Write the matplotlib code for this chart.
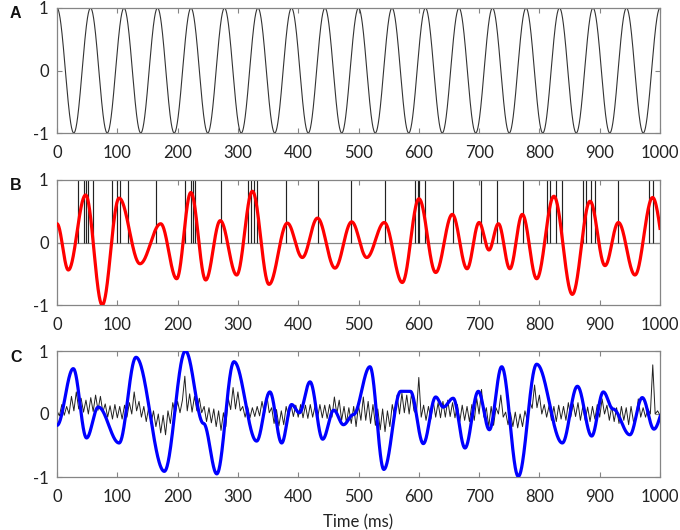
import numpy as np
import matplotlib
matplotlib.use("Agg")
import matplotlib.pyplot as plt

# ---------------- data ----------------
# Panel A: 18 Hz reference oscillation, extrema (ms, value)
a_ext_t = [0, 27.8, 55.6, 83.3, 111.1, 138.9, 166.7, 194.4, 222.2, 250, 277.8,
           305.6, 333.3, 361.1, 388.9, 416.7, 444.4, 472.2, 500, 527.8, 555.6,
           583.3, 611.1, 638.9, 666.7, 694.4, 722.2, 750, 777.8, 805.6, 833.3,
           861.1, 888.9, 916.7, 944.4, 972.2, 1000]
a_ext_v = [1, -1] * 18 + [1]

# Panel B: spike times (ms) and red filtered curve extrema
spike_times = [34, 44, 48, 52, 59, 91, 99, 104.5, 117, 164, 213, 222, 226,
               229.5, 272, 316, 321, 326, 332, 379, 433, 487, 544, 593, 599,
               601, 611, 656, 703, 729, 772, 813, 818, 828, 837, 873, 878,
               885, 892, 931, 981, 988]
red_t = [-10, 0, 18.8, 47.5, 75, 103, 137.6, 172, 198.5, 222, 246.6, 270.8,
         298, 324, 351.6, 382, 406.8, 432, 461, 488.7, 513.6, 542.8, 572.6,
         600.3, 628, 655.6, 680, 700, 716.4, 732, 751, 771.7, 795.5, 824,
         854.6, 884, 908.8, 931, 958.5, 987.8, 1015]
red_v = [0.5, 0.30, -0.44, 0.76, -1.0, 0.71, -0.34, 0.30, -0.58, 0.80, -0.60,
         0.35, -0.52, 0.82, -0.67, 0.31, -0.24, 0.39, -0.41, 0.33, -0.24,
         0.32, -0.64, 0.70, -0.48, 0.45, -0.42, 0.32, -0.12, 0.30, -0.42,
         0.45, -0.58, 0.74, -0.83, 0.66, -0.37, 0.32, -0.52, 0.72, -0.45]

# Panel C: blue curve extrema and black trace (sampled every 4 ms)
blue_t = [0, 27, 49, 68.5, 103, 131, 178, 213, 243, 265, 293.5, 331, 353,
          372.6, 389, 402, 419.6, 440.6, 459, 475, 491.5, 519, 542, 570, 586,
          607.5, 628, 640.6, 657, 676.6, 698.7, 717, 737.5, 765, 795.5, 838,
          863, 886.7, 906, 922, 950, 970.6, 990, 1010]
blue_v = [-0.18, 0.72, -0.38, 0.11, -0.46, 0.90, -0.91, 1.0, -0.15, -0.95,
          0.83, -0.43, 0.35, -0.46, 0.15, 0.02, 0.51, -0.40, 0.06, -0.17,
          -0.01, 0.75, -0.88, 0.36, 0.36, -0.47, 0.27, 0.11, 0.25, -0.54,
          0.36, -0.25, 0.75, -0.99, 0.79, -0.46, 0.44, -0.35, 0.35, 0.08,
          -0.33, 0.26, -0.24, 0.15]

black_dt = 4
black_v = [
    0.05, -0.03, 0.15, -0.02, 0.12, 0.0, 0.28, 0.05, 0.35, 0.08,
    0.25, 0.03, 0.22, 0.0, 0.26, 0.04, 0.3, 0.06, 0.28, 0.03,
    0.16, -0.05, 0.13, -0.08, 0.15, -0.06, 0.12, -0.08, 0.14, -0.05,
    0.18, 0.0, 0.35, 0.05, 0.2, -0.05, 0.12, -0.12, 0.1, -0.15,
    0.05, -0.2, 0.0, -0.3, -0.02, -0.33, 0.05, -0.15, 0.18, 0.0,
    0.2, 0.02, 0.22, 0.6, 0.05, 0.32, 0.03, 0.28, 0.05, 0.25,
    0.02, 0.12, -0.12, 0.1, -0.14, 0.08, -0.2, 0.05, -0.26, 0.02,
    -0.2, 0.25, 0.07, 0.42, 0.08, 0.35, 0.05, 0.12, -0.05, 0.12,
    -0.06, 0.1, -0.04, 0.12, -0.03, 0.2, 0.0, 0.3, 0.02, 0.1,
    -0.15, 0.07, -0.19, 0.05, -0.17, 0.12, -0.05, 0.15, -0.04, 0.14,
    -0.05, 0.15, -0.06, 0.14, -0.07, 0.15, -0.05, 0.13, -0.07, 0.15,
    -0.06, 0.14, -0.07, 0.15, -0.05, 0.27, 0.0, 0.22, -0.1, 0.12,
    -0.14, 0.1, -0.15, 0.12, -0.2, 0.14, -0.1, 0.27, -0.1, 0.2,
    -0.15, 0.15, -0.18, 0.08, -0.25, 0.08, -0.28, 0.05, -0.2, 0.15,
    -0.05, 0.3, 0.0, 0.33, 0.02, 0.3, 0.0, 0.33, 0.05, 0.0,
    0.58, -0.05, 0.14, -0.1, 0.12, -0.08, 0.2, -0.05, 0.18, -0.06,
    0.2, -0.05, 0.22, -0.04, 0.18, -0.06, 0.15, -0.12, 0.14, -0.1,
    0.12, -0.12, 0.15, -0.1, 0.25, 0.0, 0.39, -0.05, 0.1, -0.2,
    0.12, -0.18, 0.1, 0.0, 0.3, -0.05, 0.03, -0.17, 0.02, -0.2,
    0.03, -0.22, 0.0, -0.2, 0.05, -0.1, 0.2, 0.09, 0.46, 0.1,
    0.3, 0.0, 0.15, -0.05, 0.13, -0.1, 0.12, -0.12, 0.14, -0.08,
    0.12, -0.1, 0.18, -0.05, 0.16, -0.04, 0.18, -0.1, 0.12, -0.1,
    0.11, -0.12, 0.12, -0.08, 0.15, -0.05, 0.24, 0.0, 0.14, -0.1,
    0.12, -0.12, 0.1, -0.15, 0.12, -0.1, 0.1, -0.17, 0.12, -0.12,
    -0.08, 0.24, -0.05, 0.1, -0.05, 0.08, 0.0, 0.78, 0.0, 0.05,
    -0.02,
]

x_ticks = [0, 100, 200, 300, 400, 500, 600, 700, 800, 900, 1000]
y_ticks = [-1, 0, 1]
panel_labels = ["A", "B", "C"]
x_label = "Time (ms)"


def smooth_through(ts, vs, n=60):
    """Smooth path through successive extrema (zero slope at each)."""
    xs, ys = [], []
    for t0, v0, t1, v1 in zip(ts[:-1], vs[:-1], ts[1:], vs[1:]):
        u = np.linspace(0, 1, n, endpoint=False)
        xs.append(t0 + (t1 - t0) * u)
        ys.append(v0 + (v1 - v0) * (1 - np.cos(np.pi * u)) / 2)
    xs.append([ts[-1]])
    ys.append([vs[-1]])
    return np.concatenate(xs), np.concatenate(ys)


plt.rcParams['font.family'] = ['Lato', 'DejaVu Sans']
GREY = '#858585'

fig = plt.figure(figsize=(6.8, 5.3), dpi=100)
left, width = 57 / 680, 603 / 680
rows = [(8, 133), (180, 305), (351, 477)]
axes = []
for top, bot in rows:
    ax = fig.add_axes([left, 1 - bot / 530, width, (bot - top) / 530])
    axes.append(ax)

for ax, lab, (top, bot) in zip(axes, panel_labels, rows):
    ax.set_xlim(0, 1000)
    ax.set_ylim(-1, 1)
    ax.set_xticks(x_ticks)
    ax.set_yticks(y_ticks)
    ax.set_yticklabels([str(v) for v in y_ticks])
    ax.tick_params(direction='in', length=3.5, width=0.8, color=GREY,
                   top=True, right=True, labelsize=12, labelcolor='#222222')
    ax.tick_params(axis='x', pad=8.5)
    ax.tick_params(axis='y', pad=6)
    for s in ax.spines.values():
        s.set_color(GREY)
        s.set_linewidth(0.9)
    fig.text(10 / 680, 1 - (top + 6) / 530, lab, fontsize=11.5,
             fontweight='bold', family=['Liberation Sans', 'DejaVu Sans'],
             va='center', ha='left', color='#111111')

# A
xa, ya = smooth_through(a_ext_t, a_ext_v)
axes[0].plot(xa, ya, color='#333333', lw=0.8)

# B
axes[1].axhline(0, color=GREY, lw=0.9, zorder=1)
axes[1].vlines(spike_times, 0, 1, color='#222222', lw=0.85, zorder=2)
xr, yr = smooth_through(red_t, red_v)
axes[1].plot(xr, yr, color='#ff0000', lw=2.3, zorder=3)

# C
tb = np.arange(len(black_v)) * black_dt
axes[2].plot(tb, black_v, color='#222222', lw=0.7, zorder=2)
xb, yb = smooth_through(blue_t, blue_v)
axes[2].plot(xb, yb, color='#0000ff', lw=2.3, zorder=3)
axes[2].set_xlabel(x_label, fontsize=12, labelpad=7, color='#222222')

fig.savefig('out.png', dpi=100)
